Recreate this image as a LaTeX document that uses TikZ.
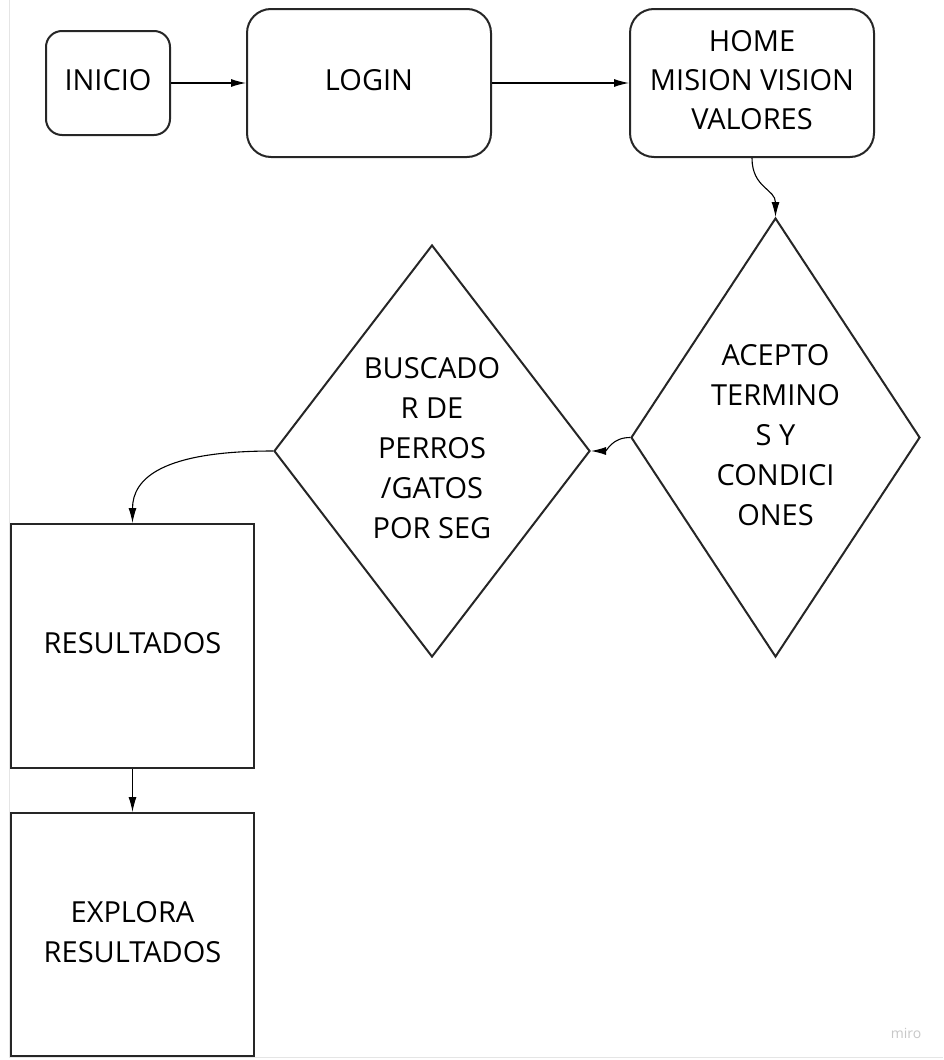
\documentclass[tikz,border=0pt]{standalone}
\usepackage{fontspec}
\setmainfont{Open Sans}
\usetikzlibrary{shapes.geometric,arrows.meta}
\begin{document}
\begin{tikzpicture}[x=1pt,y=-1pt,
  box/.style={draw=black!85,line width=2pt,inner sep=0pt},
  rbox/.style={box,rounded corners=24pt},
  dia/.style={draw=black!85,line width=2pt,diamond,inner sep=0pt},
  lbl/.style={align=center,font=\fontsize{29}{40}\selectfont,inner sep=0pt,yshift=2.5pt},
  arr/.style={line width=1.1pt,-{Latex[length=15pt,width=8pt]}},
  frame/.style={draw=black!10,line width=1pt}]
\useasboundingbox (0,0) rectangle (943,1060);
\draw[frame] (9.5,0) -- (9.5,1057) -- (943,1057);
\node[box,rounded corners=16pt,minimum width=124pt,minimum height=104pt] (inicio) at (108,83) {};
\node[lbl] (iniciot) at (inicio.center) {INICIO};
\node[rbox,minimum width=244pt,minimum height=148pt] (login) at (369,83) {};
\node[lbl] (logint) at (login.center) {LOGIN};
\node[rbox,minimum width=244pt,minimum height=148pt] (home) at (752,83) {};
\node[lbl,font=\fontsize{29}{39}\selectfont] (homet) at (home.center) {HOME\\MISION VISION\\VALORES};
\node[dia,minimum width=289pt,minimum height=439pt] (acepto) at (775.5,437.5) {};
\node[lbl] (aceptot) at (acepto.center) {ACEPTO\\TERMINO\\S Y\\CONDICI\\ONES};
\node[dia,minimum width=316pt,minimum height=412pt] (busc) at (432,451) {};
\node[lbl] (busct) at (busc.center) {BUSCADO\\R DE\\PERROS\\/GATOS\\POR SEG};
\node[box,minimum width=243pt,minimum height=244pt] (res) at (132.5,646) {};
\node[lbl] (rest) at (res.center) {RESULTADOS};
\node[box,minimum width=243pt,minimum height=243pt] (exp) at (132.5,934.5) {};
\node[lbl] (expt) at (exp.center) {EXPLORA\\RESULTADOS};
\node[font=\fontsize{14}{16}\selectfont,text=black!22] (miro) at (906,1033) {miro};
\draw[arr] (inicio.east) -- (login.west);
\draw[arr] (login.east) -- (home.west);
\draw[arr] (home.south) .. controls +(0,30) and +(0,-28) .. (acepto.north);
\draw[arr] (acepto.west) .. controls +(-18,0) and +(16,0) .. (busc.east);
\draw[arr] (busc.west) .. controls +(-110,0) and +(0,-45) .. (res.north);
\draw[arr] (res.south) -- (exp.north);
\end{tikzpicture}
\end{document}
